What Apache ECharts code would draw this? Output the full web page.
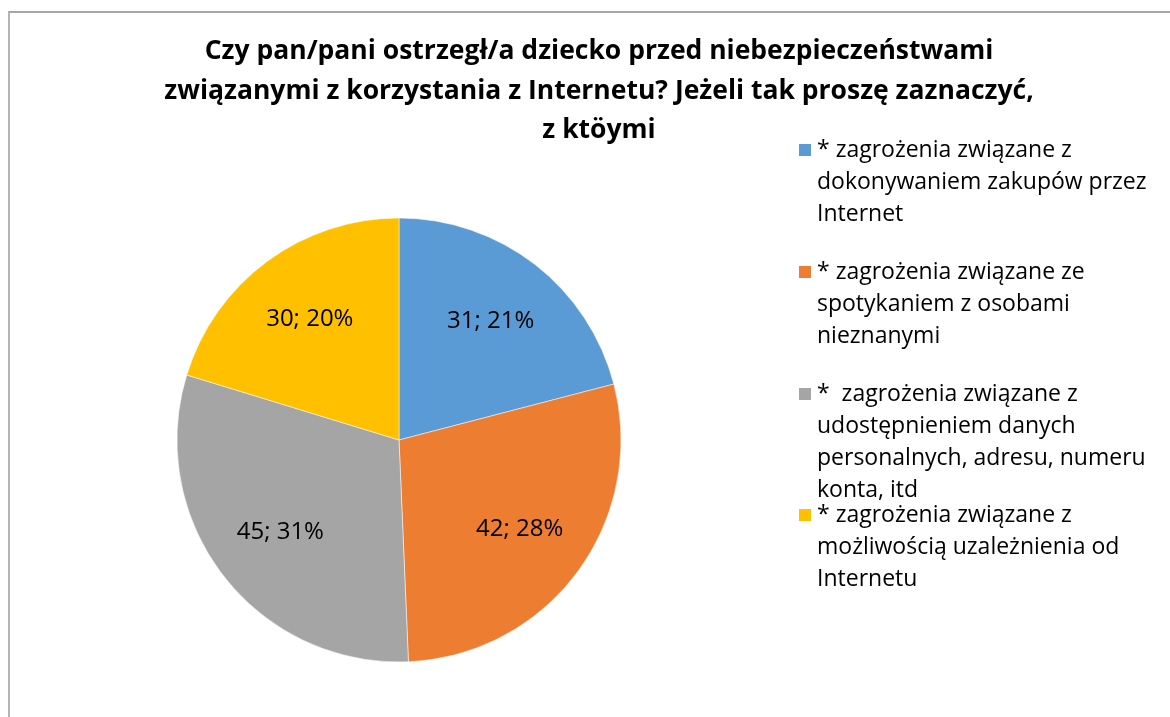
<!DOCTYPE html>
<html>
<head>
<meta charset="utf-8">
<script src="https://cdn.jsdelivr.net/npm/echarts@6/dist/echarts.min.js"></script>
<style>
  html, body { margin: 0; padding: 0; background: #fff; overflow: hidden; }
  #frame { position: absolute; left: 8px; top: 11px; width: 1300px; height: 800px;
           border-top: 2px solid #a6a6a6; border-left: 2px solid #b4b4b4; }
  #pie { position: absolute; left: 0; top: 0; width: 1198px; height: 717px; }
</style>
</head>
<body>
<div id="frame"></div>
<div id="pie"></div>
<script>
var titleText = 'Czy pan/pani ostrzegł/a dziecko przed niebezpieczeństwami\n' +
    'związanymi z korzystania z Internetu? Jeżeli tak proszę zaznaczyć,\n' +
    'z ktöymi';

var categories = [
  '* zagrożenia związane z\ndokonywaniem zakupów przez\nInternet',
  '* zagrożenia związane ze\nspotykaniem z osobami\nnieznanymi',
  '*  zagrożenia związane z\nudostępnieniem danych\npersonalnych, adresu, numeru\nkonta, itd',
  '* zagrożenia związane z\nmożliwością uzależnienia od\nInternetu'
];
var values = [31, 42, 45, 30];
var colors = ['#5B9BD5', '#ED7D31', '#A5A5A5', '#FFC000'];
var legendTops = [70, 192, 282, 435];

var pieChart = echarts.init(document.getElementById('pie'));

var pieData = [];
for (var i = 0; i < values.length; ++i)
    pieData.push({ value: values[i], name: categories[i], itemStyle: { color: colors[i] } });

var legends = [];
for (var j = 0; j < categories.length; ++j) {
    legends.push({
        orient: 'vertical',
        left: 797,
        top: legendTops[j],
        padding: 0,
        itemWidth: 14,
        itemHeight: 14,
        icon: 'rect',
        selectedMode: false,
        data: [categories[j]],
        // blank lines above keep the marker beside the first line
        formatter: function (name) {
            var n = name.split('\n').length;
            return new Array(n).join('\n') + name;
        },
        textStyle: {
            fontFamily: 'Open Sans',
            fontSize: 23,
            lineHeight: 32,
            color: '#000'
        }
    });
}

var pieOption = {
    animation: false,
    title: {
        text: titleText,
        left: 'center',
        top: 32,
        padding: 0,
        textStyle: {
            fontFamily: 'Open Sans',
            fontWeight: 'bold',
            fontSize: 26.5,
            lineHeight: 39.5,
            color: '#000'
        }
    },
    legend: legends,
    series: [
        {
            name: 'zagrożenia',
            type: 'pie',
            center: [399, 440],
            radius: [0, 222],
            startAngle: 90,
            label: { show: false },
            labelLine: { show: false },
            emphasis: { scale: false },
            itemStyle: { borderColor: '#fff', borderWidth: 0.5 },
            data: pieData
        },
        {
            name: 'etykiety',
            type: 'pie',
            center: [399, 440],
            radius: [72, 222],
            startAngle: 90,
            percentPrecision: 0,
            silent: true,
            legendHoverLink: false,
            itemStyle: { color: 'rgba(0,0,0,0)' },
            label: {
                show: true,
                position: 'inside',
                formatter: '{c}; {d}%',
                fontFamily: 'Open Sans',
                fontSize: 24,
                color: '#000'
            },
            labelLine: { show: false },
            data: values.map(function (v, k) { return { value: v, name: categories[k] }; })
        }
    ]
};

pieChart.setOption(pieOption);

window.addEventListener('resize', function () {
    pieChart.resize();
});
</script>
</body>
</html>
